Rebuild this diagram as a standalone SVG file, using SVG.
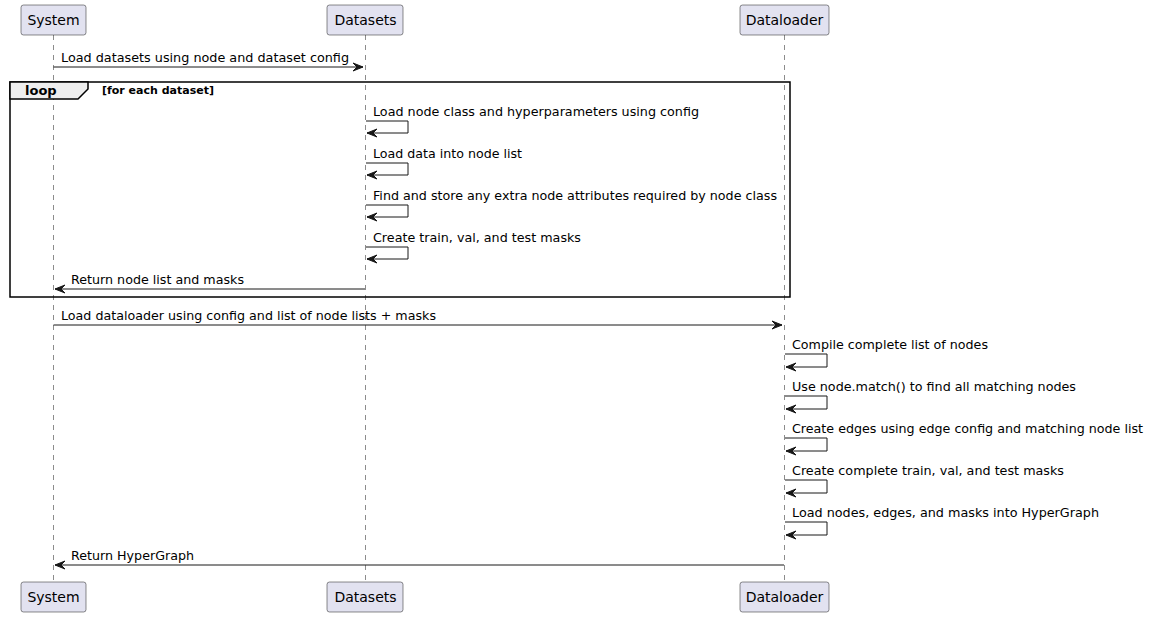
<svg xmlns="http://www.w3.org/2000/svg" width="1149" height="617" viewBox="0 0 1149 617">
<style>
.life{stroke:#181818;stroke-width:0.5;stroke-dasharray:5,5;fill:none}
.pbox{fill:#E2E2F0;stroke:#181818;stroke-width:0.5}
.ptxt{font-family:"DejaVu Sans",sans-serif;font-size:14px;fill:#000;text-anchor:middle}
.msg{stroke:#181818;stroke-width:1;fill:none}
.head{fill:#181818;stroke:#181818;stroke-width:1}
.mtxt{font-family:"DejaVu Sans",sans-serif;font-size:12.7px;fill:#000}
.frame{fill:none;stroke:#000;stroke-width:1.5}
.tab{fill:#EEEEEE;stroke:#000;stroke-width:1.5}
</style>
<rect width="1149" height="617" fill="#FFFFFF"/>
<g id="lifelines">
<line class="life" x1="53.5" y1="35" x2="53.5" y2="582"/>
<line class="life" x1="365.5" y1="35" x2="365.5" y2="582"/>
<line class="life" x1="784.5" y1="35" x2="784.5" y2="582"/>
</g>
<g id="loop">
<rect class="frame" x="10" y="82" width="780" height="215"/>
<path class="tab" d="M10,82 L88,82 L88,89 L78,99 L10,99 Z"/>
<text x="25" y="95" style="font-family:'DejaVu Sans',sans-serif;font-size:13px;font-weight:bold">loop</text>
<text x="102" y="94" style="font-family:'DejaVu Sans',sans-serif;font-size:11px;font-weight:bold">[for each dataset]</text>
</g>
<g id="System">
<rect class="pbox" x="21" y="5" width="65" height="30" rx="2.5"/>
<text class="ptxt" x="53.5" y="25">System</text>
<rect class="pbox" x="21" y="582" width="65" height="30" rx="2.5"/>
<text class="ptxt" x="53.5" y="602">System</text>
</g>
<g id="Datasets">
<rect class="pbox" x="327" y="5" width="76" height="30" rx="2.5"/>
<text class="ptxt" x="365.5" y="25">Datasets</text>
<rect class="pbox" x="327" y="582" width="76" height="30" rx="2.5"/>
<text class="ptxt" x="365.5" y="602">Datasets</text>
</g>
<g id="Dataloader">
<rect class="pbox" x="740" y="5" width="89" height="30" rx="2.5"/>
<text class="ptxt" x="784.5" y="25">Dataloader</text>
<rect class="pbox" x="740" y="582" width="89" height="30" rx="2.5"/>
<text class="ptxt" x="784.5" y="602">Dataloader</text>
</g>
<g id="connectors">
<line class="msg" x1="53.5" y1="67" x2="363" y2="67"/>
<polygon class="head" points="353,63 363,67 353,71 357,67"/>
<text class="mtxt" x="61" y="62" textLength="288" lengthAdjust="spacingAndGlyphs">Load datasets using node and dataset config</text>
<polyline class="msg" points="366,121 408,121 408,133 367,133"/>
<polygon class="head" points="377,129 367,133 377,137 373,133"/>
<text class="mtxt" x="373" y="116" textLength="326" lengthAdjust="spacingAndGlyphs">Load node class and hyperparameters using config</text>
<polyline class="msg" points="366,163 408,163 408,175 367,175"/>
<polygon class="head" points="377,171 367,175 377,179 373,175"/>
<text class="mtxt" x="373" y="158" textLength="149" lengthAdjust="spacingAndGlyphs">Load data into node list</text>
<polyline class="msg" points="366,205 408,205 408,217 367,217"/>
<polygon class="head" points="377,213 367,217 377,221 373,217"/>
<text class="mtxt" x="373" y="200" textLength="404" lengthAdjust="spacingAndGlyphs">Find and store any extra node attributes required by node class</text>
<polyline class="msg" points="366,247 408,247 408,259 367,259"/>
<polygon class="head" points="377,255 367,259 377,263 373,259"/>
<text class="mtxt" x="373" y="242" textLength="208" lengthAdjust="spacingAndGlyphs">Create train, val, and test masks</text>
<line class="msg" x1="55" y1="289" x2="365" y2="289"/>
<polygon class="head" points="65,285 55,289 65,293 61,289"/>
<text class="mtxt" x="71" y="284" textLength="173" lengthAdjust="spacingAndGlyphs">Return node list and masks</text>
<line class="msg" x1="53.5" y1="325" x2="782" y2="325"/>
<polygon class="head" points="772,321 782,325 772,329 776,325"/>
<text class="mtxt" x="61" y="320" textLength="375" lengthAdjust="spacingAndGlyphs">Load dataloader using config and list of node lists + masks</text>
<polyline class="msg" points="785,354 827,354 827,367 786,367"/>
<polygon class="head" points="796,363 786,367 796,371 792,367"/>
<text class="mtxt" x="792" y="349" textLength="196" lengthAdjust="spacingAndGlyphs">Compile complete list of nodes</text>
<polyline class="msg" points="785,396 827,396 827,409 786,409"/>
<polygon class="head" points="796,405 786,409 796,413 792,409"/>
<text class="mtxt" x="792" y="391" textLength="284" lengthAdjust="spacingAndGlyphs">Use node.match() to find all matching nodes</text>
<polyline class="msg" points="785,438 827,438 827,451 786,451"/>
<polygon class="head" points="796,447 786,451 796,455 792,451"/>
<text class="mtxt" x="792" y="433" textLength="351" lengthAdjust="spacingAndGlyphs">Create edges using edge config and matching node list</text>
<polyline class="msg" points="785,480 827,480 827,493 786,493"/>
<polygon class="head" points="796,489 786,493 796,497 792,493"/>
<text class="mtxt" x="792" y="475" textLength="272" lengthAdjust="spacingAndGlyphs">Create complete train, val, and test masks</text>
<polyline class="msg" points="785,522 827,522 827,535 786,535"/>
<polygon class="head" points="796,531 786,535 796,539 792,535"/>
<text class="mtxt" x="792" y="517" textLength="307" lengthAdjust="spacingAndGlyphs">Load nodes, edges, and masks into HyperGraph</text>
<line class="msg" x1="55" y1="565" x2="784" y2="565"/>
<polygon class="head" points="65,561 55,565 65,569 61,565"/>
<text class="mtxt" x="71" y="560" textLength="123" lengthAdjust="spacingAndGlyphs">Return HyperGraph</text>
</g>
</svg>
